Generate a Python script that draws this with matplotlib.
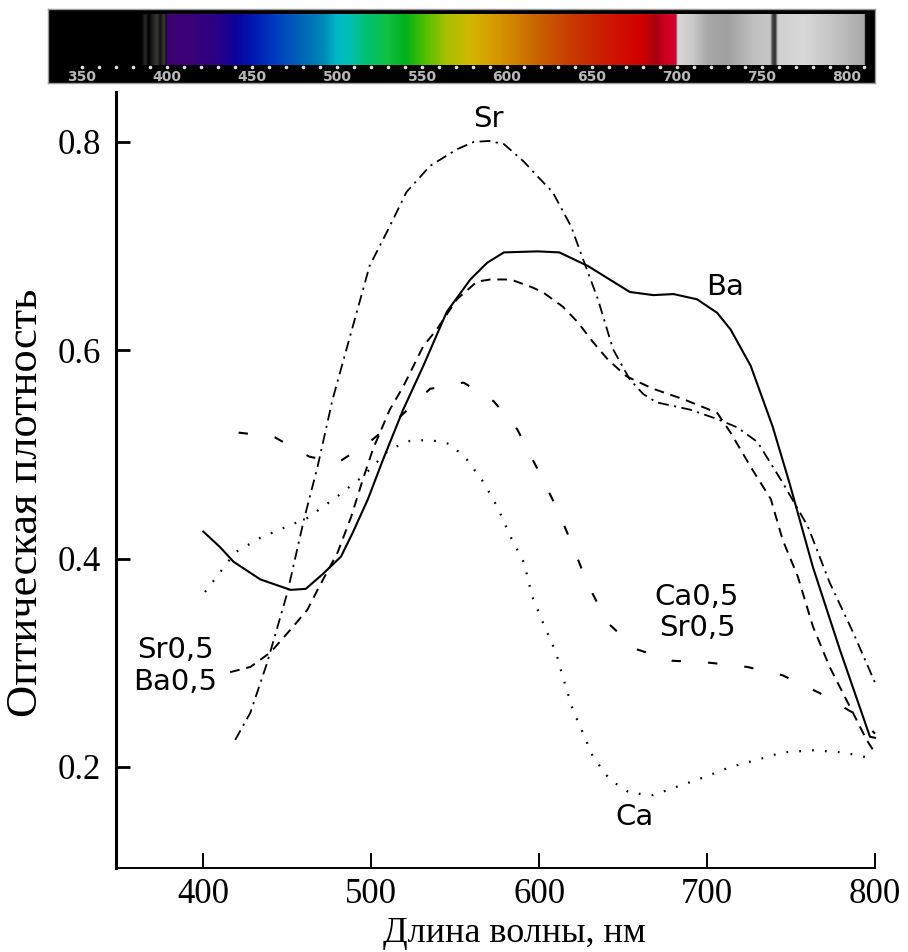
import numpy as np
import matplotlib
matplotlib.use("Agg")
import matplotlib.pyplot as plt
from matplotlib.colors import to_rgb

# --- data (wavelength, nm / optical density) ---
BA_WL = [400, 410, 418, 434, 452, 461, 471, 482, 489, 498, 507, 519, 531, 545,
         559, 569, 579, 599, 612, 629, 640, 654, 668, 680, 694, 706, 714, 726,
         739, 749, 763, 779, 797, 800]
BA_OD = [0.426, 0.411, 0.397, 0.380, 0.370, 0.371, 0.385, 0.402, 0.425, 0.457,
         0.495, 0.543, 0.585, 0.637, 0.668, 0.684, 0.694, 0.695, 0.694, 0.681,
         0.670, 0.656, 0.653, 0.654, 0.649, 0.636, 0.620, 0.585, 0.527, 0.473,
         0.392, 0.313, 0.229, 0.228]

SR_WL = [419, 428, 438, 450, 460, 468, 477, 488, 499, 511, 521, 535, 551, 561,
         570, 579, 591, 599, 608, 619, 626, 635, 644, 654, 662, 670, 690, 706,
         718, 730, 745, 760, 773, 787, 800]
SR_OD = [0.226, 0.252, 0.300, 0.367, 0.438, 0.488, 0.553, 0.617, 0.681, 0.719,
         0.752, 0.777, 0.793, 0.800, 0.801, 0.798, 0.781, 0.767, 0.752, 0.719,
         0.688, 0.649, 0.601, 0.572, 0.558, 0.550, 0.543, 0.534, 0.526, 0.512,
         0.473, 0.431, 0.377, 0.329, 0.281]

SRBA_WL = [416, 428, 440, 452, 462, 468, 480, 488, 495, 501, 511, 519, 531, 539,
           551, 563, 571, 583, 595, 602, 614, 623, 632, 641, 652, 668, 686, 706,
           714, 726, 738, 745, 754, 763, 773, 785, 795, 799]
SRBA_OD = [0.291, 0.296, 0.310, 0.332, 0.351, 0.370, 0.406, 0.440, 0.476, 0.505,
           0.543, 0.565, 0.604, 0.620, 0.649, 0.666, 0.668, 0.668, 0.661, 0.656,
           0.642, 0.627, 0.608, 0.591, 0.575, 0.563, 0.553, 0.540, 0.521, 0.488,
           0.457, 0.418, 0.383, 0.335, 0.296, 0.258, 0.226, 0.216]

CASR_WL = [421, 442, 463, 480, 499, 517, 535, 555, 573, 587, 599, 611, 620, 629,
           641, 658, 679, 702, 724, 745, 767, 789, 800]
CASR_OD = [0.521, 0.517, 0.498, 0.492, 0.512, 0.536, 0.563, 0.569, 0.551, 0.524,
           0.486, 0.447, 0.412, 0.375, 0.338, 0.313, 0.302, 0.300, 0.296, 0.288,
           0.271, 0.250, 0.232]

CA_WL = [401, 411, 419, 434, 450, 462, 480, 495, 511, 523, 535, 547, 557, 567,
         575, 583, 591, 596, 604, 610, 614, 620, 626, 632, 642, 654, 668, 682,
         698, 714, 730, 745, 763, 781, 793, 799]
CA_OD = [0.368, 0.389, 0.406, 0.420, 0.431, 0.439, 0.460, 0.479, 0.505, 0.513,
         0.514, 0.510, 0.495, 0.473, 0.450, 0.421, 0.396, 0.363, 0.332, 0.310,
         0.287, 0.255, 0.233, 0.210, 0.188, 0.175, 0.173, 0.181, 0.190, 0.200,
         0.207, 0.214, 0.216, 0.214, 0.210, 0.207]

X_TICKS = [400, 500, 600, 700, 800]
Y_TICKS = [0.2, 0.4, 0.6, 0.8]

# spectrum strip colour stops
SPEC_WL = [330, 385, 387, 389, 391, 394, 396, 398, 399.5, 400, 415, 430, 440,
           450, 465, 480, 492, 500, 508, 518, 530, 540, 552, 565, 578, 590, 605,
           620, 635, 650, 665, 680, 688, 694, 699.5, 700.5, 710, 718, 730, 745,
           755, 756.5, 758, 759.5, 775, 795, 810.5, 811, 817]
SPEC_COL = ["#000000", "#000000", "#2a2a2a", "#000000", "#1a1a1a", "#3a3a30",
            "#101010", "#3a3a3a", "#101010", "#3c0070", "#3a0078", "#2a0088",
            "#10009a", "#0018b0", "#0040c0", "#0068b8", "#0088b8", "#00b8c8",
            "#00c0b0", "#00c070", "#10c040", "#00b020", "#50c000", "#a8c000",
            "#d0b800", "#d8a000", "#d08000", "#c86000", "#c84000", "#c82800",
            "#d01000", "#d00000", "#a80010", "#d00020", "#d80030", "#d8d8d8",
            "#c8c8c8", "#a8a8a8", "#a0a0a0", "#c0c0c0", "#c8c8c8", "#404040",
            "#303030", "#d0d0d0", "#d8d8d8", "#c0c0c0", "#a8a8a8", "#000000",
            "#000000"]
SPEC_LABELS = [350, 400, 450, 500, 550, 600, 650, 700, 750, 800]

W, H = 908, 952
fig = plt.figure(figsize=(W / 100, H / 100), dpi=100)

# ---- spectrum strip ----
sax = fig.add_axes([48 / W, 1 - 83 / H, 827 / W, 74 / H])
sax.set_facecolor("black")
grid = np.linspace(330, 817, 1200)
rgb = np.array([to_rgb(c) for c in SPEC_COL])
img = np.stack([np.interp(grid, SPEC_WL, rgb[:, k]) for k in range(3)], axis=-1)
sax.imshow(img[np.newaxis, :, :], extent=[330, 817, 0.243, 0.932],
           aspect="auto", interpolation="bilinear")
sax.set_xlim(330, 816.5)
sax.set_ylim(0, 1)
dots = np.arange(350, 811, 10)
sax.scatter(dots, np.full(len(dots), 0.21), s=2.5, color="#dddddd", zorder=3)
for lab in SPEC_LABELS:
    sax.text(lab, 0.085, str(lab), color="#b8b8b8", fontsize=10,
             fontweight="bold", ha="center", va="center")
sax.set_xticks([])
sax.set_yticks([])
for s in sax.spines.values():
    s.set_color("#9a9a9a")
    s.set_linewidth(1)

# ---- main plot ----
ax = fig.add_axes([116 / W, 1 - 868 / H, (875 - 116) / W, (868 - 92) / H])
ax.set_xlim(348, 800)
ax.set_ylim(0.103, 0.848)

kw = dict(color="black", clip_on=False)
ax.plot(BA_WL, BA_OD, lw=1.5, linestyle="-", **kw)
ax.plot(SR_WL, SR_OD, lw=1.3, linestyle=(0, (6, 3, 1.2, 3)), **kw)
ax.plot(SRBA_WL, SRBA_OD, lw=1.4, linestyle=(0, (5, 3.5)), **kw)
ax.plot(CASR_WL, CASR_OD, lw=1.5, linestyle=(0, (4.5, 13)), **kw)
ax.plot(CA_WL, CA_OD, lw=1.6, linestyle=(0, (0.8, 5)), **kw)

lab_kw = dict(fontsize=21, family="DejaVu Sans", ha="center", va="center",
              linespacing=1.15)
ax.text(569.6, 0.822, "Sr", **lab_kw)
ax.text(710.7, 0.661, "Ba", **lab_kw)
ax.text(383.3, 0.297, "Sr0,5\nBa0,5", **lab_kw)
ax.text(694, 0.348, "Ca0,5\nSr0,5", **lab_kw)
ax.text(657, 0.152, "Ca", **lab_kw)

ax.spines["top"].set_visible(False)
ax.spines["right"].set_visible(False)
ax.spines["left"].set_linewidth(2.2)
ax.spines["bottom"].set_linewidth(1.4)

ax.set_xticks(X_TICKS)
ax.set_yticks(Y_TICKS)
ax.set_xticklabels([str(v) for v in X_TICKS])
ax.set_yticklabels([f"{v:.1f}" for v in Y_TICKS])
ax.tick_params(axis="x", direction="in", length=11, width=1.4, pad=7)
ax.tick_params(axis="y", direction="in", length=10, width=2.0, pad=11)
for t in ax.get_xticklabels() + ax.get_yticklabels():
    t.set_fontfamily("Liberation Serif")
    t.set_fontsize(25)

ax.set_xlabel("Длина волны, нм", fontsize=26, family="Liberation Serif")
ax.set_ylabel("Оптическая плотность", fontsize=32, family="Liberation Serif")
ax.xaxis.set_label_coords(0.525, -0.063)
ax.yaxis.set_label_coords(-0.092, 0.47)

fig.savefig("out.png", dpi=100)
